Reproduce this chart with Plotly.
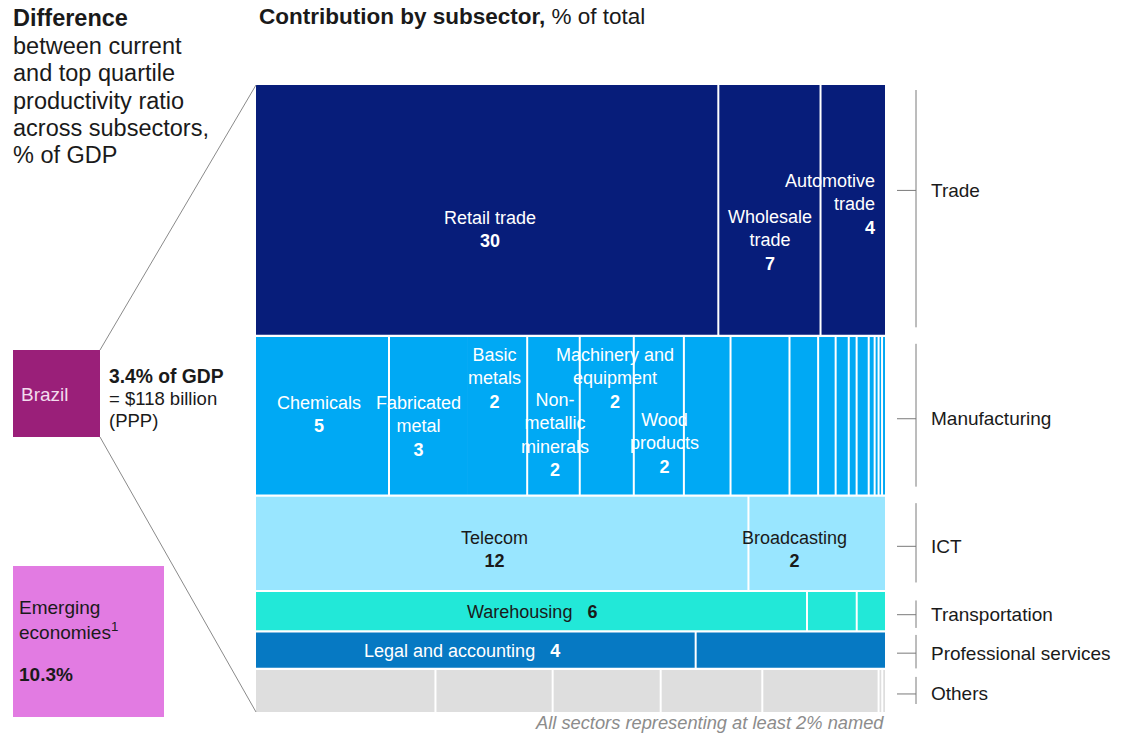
import plotly.graph_objects as go

# ---------------- data ----------------
sectors = ["Trade", "Manufacturing", "ICT", "Transportation", "Professional services", "Others"]

trade_labels = ["Retail trade", "Wholesale<br>trade", "Automotive<br>trade"]
trade_values = [29.4, 6.5, 4.1]
trade_shown = [30, 7, 4]

manufacturing_labels = ["Chemicals", "Fabricated<br>metal", "Basic<br>metals", "Non-<br>metallic<br>minerals",
                        "Machinery and<br>equipment", "Wood<br>products",
                        "", "", "", "", "", "", "", "", "", "", ""]
manufacturing_values = [5.39, 3.2, 2.4, 2.13, 2.19, 2.03, 1.89, 2.39, 1.16, 0.71, 0.53, 0.32, 0.49, 0.24,
                        0.16, 0.14, 0.12]
manufacturing_shown = [5, 3, 2, 2, 2, 2, None, None, None, None, None, None, None, None, None, None, None]

ict_labels = ["Telecom", "Broadcasting"]
ict_values = [11.9, 3.3]
ict_shown = [12, 2]

transportation_labels = ["Warehousing", "", ""]
transportation_values = [5.65, 0.51, 0.29]
transportation_shown = [6, None, None]

professional_labels = ["Legal and accounting", ""]
professional_values = [4.18, 1.80]
professional_shown = [4, None]

others_labels = ["", "", "", "", "", "", ""]
others_values = [1.96, 1.28, 1.18, 1.11, 1.27, 0.04, 0.03]
others_shown = [None] * 7

sector_data = [
    (trade_labels, trade_values, trade_shown),
    (manufacturing_labels, manufacturing_values, manufacturing_shown),
    (ict_labels, ict_values, ict_shown),
    (transportation_labels, transportation_values, transportation_shown),
    (professional_labels, professional_values, professional_shown),
    (others_labels, others_values, others_shown),
]

# ---------------- styles / layout ----------------
W, H = 1131, 734
FONT = "Arial, Liberation Sans, sans-serif"
sector_colors = ["#071d7a", "#00a9f4", "#99e6ff", "#22e8d8", "#0679c3", "#dedede"]
label_colors = ["#ffffff", "#ffffff", "#1a1a1a", "#1a1a1a", "#ffffff", "#1a1a1a"]

# chart box in pixels
CX0, CX1, CY0, CY1 = 256, 885, 85, 712

# label layout: (sector index, item index) -> (dx px, dy px, mode, anchor)
label_layout = {
    (0, 0): (3, 19, "stack", "center"),
    (0, 1): (1, 30, "stack", "center"),
    (0, 2): (-8, -5.5, "stack", "right"),
    (1, 0): (-3.5, -1, "stack", "center"),
    (1, 1): (-10, 10.5, "stack", "center"),
    (1, 2): (-3.5, -37.5, "stack", "center"),
    (1, 3): (1.5, 19.5, "stack", "center"),
    (1, 4): (8.5, -37.5, "stack", "center"),
    (1, 5): (5.5, 27.5, "stack", "center"),
    (2, 0): (-8, 6, "stack", "center"),
    (2, 1): (-22.7, 6, "stack", "center"),
    (3, 0): (0.5, 1, "inline", "center"),
    (4, 0): (-14, 1, "inline", "center"),
}
hidden_dividers = {(1, 2)}  # no divider drawn before this item

# right-side brackets: (top pad px, bottom pad px, tick offset px from row centre)
bracket_layout = [(5, 8.5, -20), (8, 9, 3), (7.5, 8.5, 3), (9.5, 3.5, 3.5), (3.5, 0.5, 3), (8, 8, 3.5)]

# ---------------- build ----------------
totals = [sum(v) for _, v, _ in sector_data]
grand = sum(totals)
ppy = (CY1 - CY0) / grand       # px per unit (y)

fig = go.Figure()
shapes = []
annotations = []

y_start = 0.0
row_bounds = []
for si, (labels, values, shown) in enumerate(sector_data):
    tot = totals[si]
    yc = y_start + tot / 2
    widths = [v / tot * 100 for v in values]
    bases = []
    acc = 0.0
    for w in widths:
        bases.append(acc)
        acc += w
    fig.add_trace(go.Bar(
        orientation="h", y=[yc] * len(values), x=widths, base=bases, width=[tot] * len(values),
        marker=dict(color=sector_colors[si], line=dict(width=0)),
        hoverinfo="skip", showlegend=False,
    ))
    for i in range(1, len(values)):
        if (si, i) in hidden_dividers:
            continue
        shapes.append(dict(type="line", xref="x", yref="y", x0=bases[i], x1=bases[i],
                           y0=y_start, y1=y_start + tot, line=dict(color="white", width=2), layer="above"))
    for i, lab in enumerate(labels):
        if (si, i) not in label_layout:
            continue
        dx, dy, mode, anchor = label_layout[(si, i)]
        if mode == "stack":
            txt = f"{lab}<br><b>{shown[i]}</b>"
        else:
            txt = f"{lab}\u00a0\u00a0\u00a0<b>{shown[i]}</b>"
        if anchor == "right":
            ax = bases[i] + widths[i]
            xa, al = "right", "right"
        else:
            ax = bases[i] + widths[i] / 2
            xa, al = "center", "center"
        annotations.append(dict(
            x=ax, y=yc, xref="x", yref="y", text=txt, showarrow=False,
            xanchor=xa, yanchor="middle", align=al, xshift=dx, yshift=-dy,
            font=dict(family=FONT, size=18, color=label_colors[si]),
        ))
    row_bounds.append((y_start, y_start + tot))
    y_start += tot

for (a, b) in row_bounds[:-1]:
    shapes.append(dict(type="line", xref="x", yref="y", x0=0, x1=100, y0=b, y1=b,
                       line=dict(color="white", width=2.2), layer="above"))


def px(x):
    return x / W


def py(y):
    return 1 - y / H


for si, (a, b) in enumerate(row_bounds):
    top, bot, toff = bracket_layout[si]
    ytop = CY0 + a * ppy + top
    ybot = CY0 + b * ppy - bot
    ytick = CY0 + (a + b) / 2 * ppy + toff
    shapes.append(dict(type="line", xref="paper", yref="paper", x0=px(916), x1=px(916),
                       y0=py(ytop), y1=py(ybot), line=dict(color="#7a7a7a", width=1)))
    shapes.append(dict(type="line", xref="paper", yref="paper", x0=px(897), x1=px(916),
                       y0=py(ytick), y1=py(ytick), line=dict(color="#7a7a7a", width=1)))
    annotations.append(dict(x=px(929), y=py(ytick), xref="paper", yref="paper", text=sectors[si],
                            showarrow=False, xanchor="left", yanchor="middle",
                            font=dict(family=FONT, size=19, color="#1a1a1a")))

shapes.append(dict(type="rect", xref="paper", yref="paper", x0=px(13), x1=px(100), y0=py(437), y1=py(350),
                   fillcolor="#9a1f79", line=dict(width=0)))
shapes.append(dict(type="rect", xref="paper", yref="paper", x0=px(13), x1=px(164), y0=py(717), y1=py(566),
                   fillcolor="#e27be2", line=dict(width=0)))
shapes.append(dict(type="line", xref="paper", yref="paper", x0=px(100), y0=py(350), x1=px(CX0), y1=py(CY0),
                   line=dict(color="#8a8a8a", width=1)))
shapes.append(dict(type="line", xref="paper", yref="paper", x0=px(100), y0=py(437), x1=px(CX0), y1=py(CY1),
                   line=dict(color="#8a8a8a", width=1)))


def text(x, y, t, size, color="#1a1a1a", xanchor="left"):
    annotations.append(dict(x=px(x), y=py(y), xref="paper", yref="paper", text=t, showarrow=False,
                            xanchor=xanchor, yanchor="middle", font=dict(family=FONT, size=size, color=color)))


left_lines = ["<b>Difference</b>", "between current", "and top quartile", "productivity ratio",
              "across subsectors,", "% of GDP"]
left_y = [18, 46, 73, 101, 128, 155]
for t, y in zip(left_lines, left_y):
    text(11, y, t, 23.5)

text(257, 17, "<b>Contribution by subsector,</b> % of total", 22.5)
text(19, 394, "Brazil", 19, color="#f3dcee")
text(107, 376, "<b>3.4% of GDP</b>", 19.3)
text(107, 398, "= $118 billion", 18.5)
text(107, 420, "(PPP)", 18.5)
text(17, 607, "Emerging", 19)
text(17, 631, "economies<sup>1</sup>", 19)
text(17, 674, "<b>10.3%</b>", 19)
text(886, 722, "<i>All sectors representing at least 2% named</i>", 18.3, color="#8c8c8c", xanchor="right")

fig.update_layout(
    width=W, height=H, margin=dict(l=0, r=0, t=0, b=0),
    paper_bgcolor="white", plot_bgcolor="white",
    barmode="overlay", showlegend=False,
    xaxis=dict(domain=[CX0 / W, CX1 / W], range=[0, 100], visible=False, fixedrange=True),
    yaxis=dict(domain=[1 - CY1 / H, 1 - CY0 / H], range=[grand, 0], visible=False, fixedrange=True),
    shapes=shapes, annotations=annotations,
)

fig.write_html("out.html", config={"displayModeBar": False},
               post_script="document.body.style.margin='0';document.body.style.overflow='hidden';")
